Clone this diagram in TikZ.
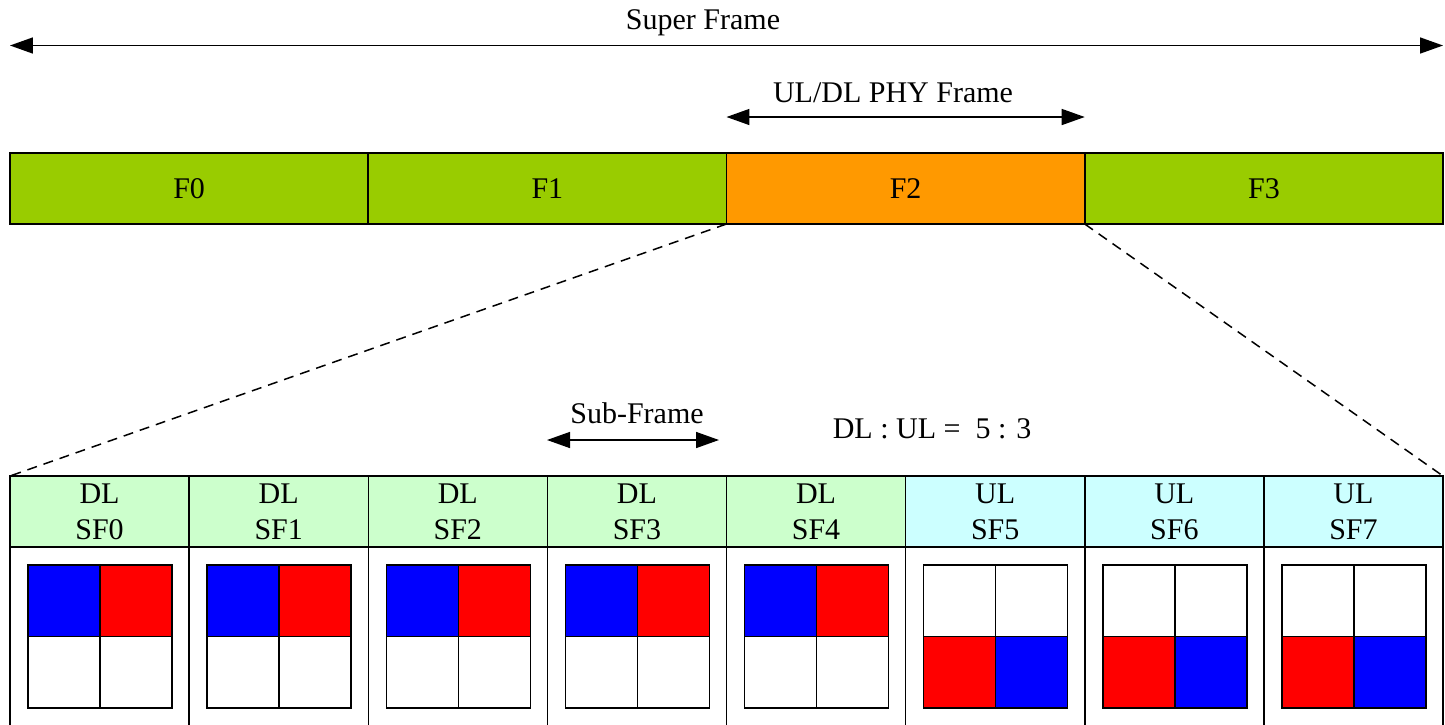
\documentclass[tikz,border=0pt]{standalone}
\usepackage{fontspec}
\setmainfont{Liberation Serif}
\usetikzlibrary{arrows.meta,positioning}
\definecolor{framegreen}{HTML}{99CC00}
\definecolor{frameorange}{HTML}{FF9900}
\definecolor{dlhead}{HTML}{CCFFCC}
\definecolor{ulhead}{HTML}{CCFFFF}
\definecolor{slotblue}{HTML}{0000FF}
\definecolor{slotred}{HTML}{FF0000}
\begin{document}
\begin{tikzpicture}[x=0.5pt,y=-0.5pt,
  font=\fontsize{15}{18}\selectfont,
  line width=0.75pt,
  framebox/.style={draw, rectangle, inner sep=0pt, outer sep=0pt,
    minimum width=179.125pt, minimum height=35.5pt},
  headbox/.style={draw, rectangle, align=center, inner sep=0pt, outer sep=0pt,
    minimum width=89.5625pt, minimum height=35.5pt},
  bodybox/.style={draw, rectangle, inner sep=0pt, outer sep=0pt,
    minimum width=89.5625pt, minimum height=110pt},
  dimarrow/.style={{Triangle[length=11.5pt,width=8pt]}-{Triangle[length=11.5pt,width=8pt]}},
  zoomline/.style={dashed, dash pattern=on 5pt off 3.5pt},
  label/.style={inner sep=0pt, anchor=base}]
\useasboundingbox (0,0) rectangle (1445,724);
\clip (0,0) rectangle (1445,724);

% frames of the super frame
\node[framebox, fill=framegreen]  (f0) at (189.1,188.5) {F0};
\node[framebox, fill=framegreen]  (f1) at (547.4,188.5) {F1};
\node[framebox, fill=frameorange] (f2) at (905.6,188.5) {F2};
\node[framebox, fill=framegreen]  (f3) at (1263.9,188.5) {F3};

% super frame span
\node[label] (tsuper) at (703,29) {Super Frame};
\draw[dimarrow] (f0.north west |- 0,45.5) -- (f3.north east |- 0,45.5);

% one PHY frame span
\node[label] (tphy) at (893,102) {UL/DL PHY Frame};
\draw[dimarrow] (f2.north west |- 0,117) -- (f2.north east |- 0,117);

% sub-frame headers and bodies
\foreach \i/\kind/\col in {0/DL/dlhead,1/DL/dlhead,2/DL/dlhead,3/DL/dlhead,4/DL/dlhead,
                           5/UL/ulhead,6/UL/ulhead,7/UL/ulhead}{
  \node[headbox, fill=\col] (h\i) at ({10+179.125*(\i+0.5)},511.5) {\kind\\SF\i};
  \node[bodybox, anchor=north] (b\i) at (h\i.south) {};
  \coordinate (g\i) at ([xshift=9pt,yshift=-9pt]b\i.north west);
}

% resource grids: downlink slots on top, uplink slots at the bottom
\foreach \i in {0,...,4}{
  \filldraw[fill=slotblue] (g\i) rectangle ++(72,71.5);
  \filldraw[fill=slotred]  ([xshift=36pt]g\i) rectangle ++(72,71.5);
  \filldraw[fill=white]    ([yshift=-35.75pt]g\i) rectangle ++(72,71.5);
  \filldraw[fill=white]    ([xshift=36pt,yshift=-35.75pt]g\i) rectangle ++(72,71.5);
}
\foreach \i in {5,6,7}{
  \filldraw[fill=white]    (g\i) rectangle ++(72,71.5);
  \filldraw[fill=white]    ([xshift=36pt]g\i) rectangle ++(72,71.5);
  \filldraw[fill=slotred]  ([yshift=-35.75pt]g\i) rectangle ++(72,71.5);
  \filldraw[fill=slotblue] ([xshift=36pt,yshift=-35.75pt]g\i) rectangle ++(72,71.5);
}

% zoom from F2 to its sub-frames
\draw[zoomline] (f2.south west) -- (h0.north west);
\draw[zoomline] (f2.south east) -- (h7.north east);

% sub-frame span and ratio
\node[label] (tsub) at (637,423) {Sub-Frame};
\coordinate (subL) at (547,440);
\coordinate (subR) at (719,440);
\draw[dimarrow] (subL) -- (subR);
\node[label, anchor=base west] (tratio) at (832,438) {DL : UL =\ \ 5 : 3};
\end{tikzpicture}
\end{document}
